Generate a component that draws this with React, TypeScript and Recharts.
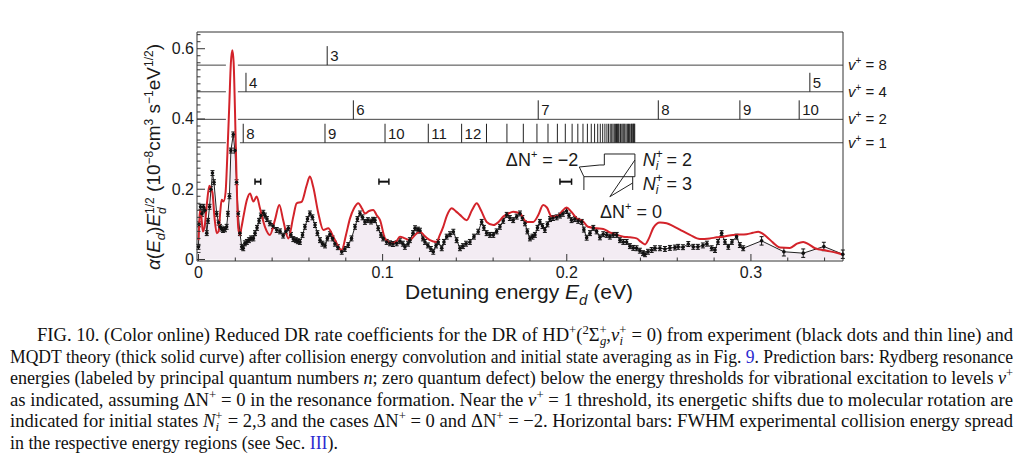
import React from "react";
import {
  ComposedChart,
  Line,
  Area,
  Scatter,
  XAxis,
  YAxis,
  ReferenceLine,
  ErrorBar,
} from "recharts";

const SANS = "'Liberation Sans', Arial, sans-serif";
const SERIF = "'Liberation Serif', 'Times New Roman', serif";
const RED = "#d3232a";
const INK = "#1a1a1a";

// experiment: reduced DR rate vs detuning energy (eV)
const expE = [
  0.0, 0.0003, 0.0011, 0.0019, 0.0027, 0.0035, 0.0045, 0.0052, 0.006, 0.0068,
  0.0076, 0.0084, 0.0099, 0.0109, 0.0117, 0.0125, 0.0133, 0.0144, 0.0153, 0.016,
  0.0168, 0.0176, 0.0189, 0.0198, 0.0207, 0.0216, 0.0225, 0.0235, 0.0243, 0.0252,
  0.0263, 0.0274, 0.0285, 0.0298, 0.0307, 0.0318, 0.0329, 0.0339, 0.0352, 0.0361,
  0.0372, 0.0388, 0.0405, 0.0425, 0.0443, 0.046, 0.0475, 0.0488, 0.0502, 0.0515,
  0.0529, 0.054, 0.0551, 0.0565, 0.0578, 0.0592, 0.0605, 0.0619, 0.0633, 0.0646,
  0.066, 0.0673, 0.0687, 0.07, 0.0714, 0.0728, 0.0741, 0.0757, 0.0778, 0.0795,
  0.0813, 0.0831, 0.085, 0.0863, 0.0877, 0.0891, 0.0904, 0.092, 0.0937, 0.0948,
  0.0958, 0.0976, 0.0991, 0.1003, 0.1022, 0.104, 0.1056, 0.1076, 0.1094, 0.111,
  0.1121, 0.1138, 0.1148, 0.1165, 0.1176, 0.1192, 0.1203, 0.1219, 0.123, 0.1246,
  0.1262, 0.1275, 0.129, 0.1302, 0.1321, 0.1333, 0.1348, 0.1366, 0.1384, 0.1402,
  0.142, 0.1436, 0.1453, 0.1474, 0.1496, 0.1519, 0.1538, 0.155, 0.1565, 0.1583,
  0.1601, 0.1619, 0.1637, 0.1655, 0.1674, 0.1691, 0.1709, 0.1728, 0.1746, 0.1759,
  0.1773, 0.1786, 0.18, 0.1814, 0.1827, 0.1841, 0.1854, 0.1868, 0.1881, 0.1895,
  0.1909, 0.1925, 0.1945, 0.1963, 0.1979, 0.1999, 0.2012, 0.2026, 0.2044, 0.2062,
  0.2081, 0.2093, 0.2108, 0.2126, 0.2144, 0.2162, 0.218, 0.2198, 0.2217, 0.2234,
  0.2252, 0.2271, 0.2289, 0.2307, 0.2325, 0.2343, 0.2361, 0.2379, 0.2397, 0.2414,
  0.2425, 0.2441, 0.2461, 0.2479, 0.2506, 0.2533, 0.256, 0.2587, 0.2605, 0.2631,
  0.266, 0.2687, 0.2712, 0.2739, 0.2761, 0.2787, 0.2805, 0.2821, 0.2841, 0.2859,
  0.2877, 0.2897, 0.2922, 0.294, 0.2958,
];
const expY = [
  0.036, 0.1, 0.15, 0.13, 0.15, 0.14, 0.075, 0.11, 0.15, 0.2,
  0.246, 0.22, 0.13, 0.105, 0.093, 0.088, 0.084, 0.086, 0.093, 0.13,
  0.18, 0.31, 0.356, 0.31, 0.22, 0.13, 0.075, 0.036, 0.032, 0.046,
  0.05, 0.055, 0.06, 0.06, 0.075, 0.09, 0.11, 0.125, 0.133, 0.125,
  0.115, 0.103, 0.095, 0.084, 0.08, 0.068, 0.08, 0.089, 0.07, 0.058,
  0.055, 0.052, 0.05, 0.07, 0.093, 0.115, 0.131, 0.12, 0.098, 0.075,
  0.055, 0.045, 0.04, 0.06, 0.072, 0.06, 0.045, 0.035, 0.022, 0.03,
  0.041, 0.06, 0.093, 0.115, 0.131, 0.12, 0.107, 0.112, 0.108, 0.113,
  0.112, 0.089, 0.07, 0.06, 0.05, 0.046, 0.044, 0.046, 0.052, 0.045,
  0.036, 0.045, 0.055, 0.075, 0.089, 0.085, 0.082, 0.06, 0.05, 0.04,
  0.03, 0.022, 0.04, 0.05, 0.032, 0.05, 0.065, 0.072, 0.079, 0.055,
  0.032, 0.038, 0.045, 0.05, 0.065, 0.079, 0.107, 0.09, 0.075, 0.07,
  0.07, 0.08, 0.093, 0.11, 0.127, 0.118, 0.112, 0.122, 0.131, 0.118,
  0.103, 0.08, 0.06, 0.065, 0.07, 0.09, 0.107, 0.095, 0.084, 0.1,
  0.115, 0.118, 0.12, 0.125, 0.13, 0.138, 0.125, 0.112, 0.115, 0.11,
  0.107, 0.085, 0.062, 0.075, 0.09, 0.08, 0.063, 0.072, 0.07, 0.065,
  0.07, 0.07, 0.055, 0.05, 0.05, 0.038, 0.033, 0.032, 0.025, 0.018,
  0.015, 0.022, 0.027, 0.032, 0.032, 0.03, 0.033, 0.034, 0.036, 0.035,
  0.044, 0.036, 0.036, 0.04, 0.045, 0.032, 0.027, 0.05, 0.075, 0.05,
  0.036, 0.05, 0.065, 0.041, 0.032,
];
// sparse points above 0.3 eV (larger error bars)
const expSparseE = [0.3058, 0.3179, 0.3284, 0.3396, 0.3499];
const expSparseY = [0.053, 0.022, 0.018, 0.037, 0.015];

// MQDT theory curve
const theoryE = [
  0.0, 0.0004, 0.0008, 0.0016, 0.0024, 0.0035, 0.0046, 0.0059, 0.0068, 0.0076,
  0.0087, 0.0099, 0.0109, 0.0119, 0.0126, 0.0136, 0.0147, 0.0157, 0.0168, 0.0176,
  0.0184, 0.0191, 0.0198, 0.0206, 0.0216, 0.0225, 0.0233, 0.0247, 0.0263, 0.028,
  0.0298, 0.0316, 0.0334, 0.0361, 0.0388, 0.0415, 0.0439, 0.046, 0.0488, 0.0515,
  0.0533, 0.056, 0.0588, 0.0605, 0.0623, 0.0651, 0.0678, 0.0705, 0.0732, 0.0778,
  0.0801, 0.0823, 0.0844, 0.0868, 0.0888, 0.0904, 0.0926, 0.0949, 0.0969, 0.0986,
  0.1013, 0.1049, 0.1072, 0.1094, 0.1121, 0.1148, 0.1176, 0.1203, 0.123, 0.1257,
  0.1293, 0.1311, 0.1329, 0.1349, 0.1375, 0.1398, 0.142, 0.1456, 0.1485, 0.1511,
  0.1534, 0.1565, 0.1601, 0.1626, 0.1655, 0.1681, 0.1709, 0.1746, 0.1782, 0.1818,
  0.1844, 0.1872, 0.1892, 0.1918, 0.1954, 0.1974, 0.1999, 0.2023, 0.2054, 0.2089,
  0.2115, 0.2162, 0.2198, 0.2234, 0.2271, 0.2307, 0.2343, 0.2379, 0.2403, 0.2425,
  0.2446, 0.247, 0.2506, 0.2542, 0.2578, 0.2614, 0.2669, 0.2723, 0.2777, 0.2814,
  0.285, 0.2904, 0.2977, 0.3011, 0.304, 0.3065, 0.3085, 0.312, 0.3158, 0.3212,
  0.325, 0.3284, 0.3315, 0.3348, 0.3411, 0.3465, 0.35,
];
const theoryY = [
  0.055, 0.1, 0.14, 0.12, 0.08, 0.1, 0.16, 0.21, 0.2, 0.19,
  0.12, 0.075, 0.08, 0.14, 0.17, 0.165, 0.19, 0.3, 0.45, 0.56,
  0.596, 0.56, 0.43, 0.25, 0.09, 0.07, 0.09, 0.13, 0.17, 0.188,
  0.165, 0.179, 0.146, 0.093, 0.07, 0.112, 0.155, 0.112, 0.06, 0.122,
  0.16, 0.164, 0.212, 0.236, 0.207, 0.131, 0.084, 0.089, 0.065, 0.027,
  0.07, 0.117, 0.145, 0.16, 0.145, 0.131, 0.138, 0.141, 0.125, 0.112,
  0.06, 0.046, 0.05, 0.065, 0.06, 0.055, 0.07, 0.079, 0.066, 0.055,
  0.05, 0.07, 0.093, 0.125, 0.146, 0.137, 0.127, 0.112, 0.14, 0.16,
  0.14, 0.107, 0.098, 0.105, 0.122, 0.13, 0.136, 0.131, 0.107, 0.107,
  0.125, 0.155, 0.148, 0.122, 0.125, 0.137, 0.148, 0.137, 0.117, 0.108,
  0.093, 0.089, 0.087, 0.077, 0.07, 0.065, 0.063, 0.06, 0.05, 0.043,
  0.06, 0.09, 0.105, 0.103, 0.095, 0.085, 0.07, 0.058, 0.06, 0.063,
  0.065, 0.07, 0.072, 0.076, 0.079, 0.073, 0.065, 0.048, 0.034, 0.033,
  0.045, 0.05, 0.043, 0.032, 0.025, 0.019, 0.013,
];

// vibrational thresholds v+ (drawn levels) and the gap around the main peak
const levelNames = ["8", "4", "2", "1"];
const levelY = [0.5533, 0.4774, 0.399, 0.3323];
const gapFrom = [0.0149, 0.0149, 0.0149, 0.0149];
const gapTo = [0.0214, 0.0214, 0.0214, 0.0225];

// Rydberg resonance energies (eV), labelled by n
const rydV8n = ["3"];
const rydV8E = [0.0699];
const rydV4n = ["4", "5"];
const rydV4E = [0.0258, 0.332];
const rydV2n = ["6", "7", "8", "9", "10"];
const rydV2E = [0.0841, 0.1845, 0.2497, 0.294, 0.3262];
const rydV1n = ["8", "9", "10", "11", "12"];
const rydV1E = [0.0243, 0.0687, 0.1013, 0.1248, 0.1429];
const rydV1HighE = [
  0.1564, 0.1675, 0.1764, 0.1838, 0.1898, 0.1949, 0.1992, 0.2029, 0.206, 0.2088,
  0.2112, 0.2133, 0.2151, 0.2168, 0.2182, 0.2195, 0.2207, 0.2218, 0.2227, 0.2236,
  0.2244, 0.2251, 0.2258, 0.2264, 0.227, 0.2275, 0.228, 0.2284, 0.2292, 0.2299,
  0.2305, 0.231, 0.2315, 0.2322, 0.2329, 0.2335, 0.234, 0.2348, 0.2352, 0.2355,
  0.236, 0.2363, 0.2366, 0.2369,
];

// FWHM collision energy spread bars
const fwhmFrom = [0.0307, 0.098, 0.1963];
const fwhmTo = [0.0338, 0.1034, 0.2026];
const fwhmY = 0.2215;

// rotational-shift brackets [x1, y1, x2, y2]
const bracketSegs = [
  [0.2204, 0.269, 0.2204, 0.3003],
  [0.2204, 0.3003, 0.237, 0.3003],
  [0.237, 0.3003, 0.237, 0.2357],
  [0.2093, 0.2357, 0.237, 0.2357],
  [0.2093, 0.2357, 0.2093, 0.1978],
  [0.2358, 0.2357, 0.2358, 0.1978],
  [0.2068, 0.2633, 0.218, 0.269],
  [0.218, 0.269, 0.2204, 0.269],
  [0.2068, 0.2633, 0.2093, 0.2357],
  [0.2234, 0.1788, 0.237, 0.2832],
  [0.2234, 0.1788, 0.2358, 0.2178],
];

const xTicks = [
  0, 0.02, 0.04, 0.06, 0.08, 0.1, 0.12, 0.14, 0.16, 0.18, 0.2, 0.22, 0.24, 0.26,
  0.28, 0.3, 0.32, 0.34,
];
const yTicks = [
  0, 0.02, 0.04, 0.06, 0.08, 0.1, 0.12, 0.14, 0.16, 0.18, 0.2, 0.22, 0.24, 0.26,
  0.28, 0.3, 0.32, 0.34, 0.36, 0.38, 0.4, 0.42, 0.44, 0.46, 0.48, 0.5, 0.52, 0.54,
  0.56, 0.58, 0.6, 0.62, 0.64,
];

const expData = [
  ...expE.map((x, i) => ({ x, y: expY[i], err: 0.007 })),
  ...expSparseE.map((x, i) => ({ x, y: expSparseY[i], err: 0.012 })),
];
const theoryData = theoryE.map((x, i) => ({ x, y: theoryY[i] }));

const predData = [
  ...rydV8E.map((x, i) => ({ x, y: levelY[0], label: rydV8n[i] })),
  ...rydV4E.map((x, i) => ({ x, y: levelY[1], label: rydV4n[i] })),
  ...rydV2E.map((x, i) => ({ x, y: levelY[2], label: rydV2n[i] })),
  ...rydV1E.map((x, i) => ({ x, y: levelY[3], label: rydV1n[i] })),
  ...rydV1HighE.map((x) => ({ x, y: levelY[3], label: "" })),
];
const levelLabelData = levelY.map((y, i) => ({ x: 0.35, y, label: levelNames[i] }));

const annotData = [
  { x: 0.2063, y: 0.2832, kind: "dNm2" },
  { x: 0.2413, y: 0.2832, kind: "N2" },
  { x: 0.2413, y: 0.2149, kind: "N3" },
  { x: 0.218, y: 0.1352, kind: "dN0" },
];

const XDOM: [number, number] = [-0.0008, 0.35];
const YDOM: [number, number] = [-0.0043, 0.6476];

const near = (v: number, step: number) =>
  Math.abs(v / step - Math.round(v / step)) < 1e-6;

function BottomTick(p: any) {
  const { x, y, payload } = p;
  const major = near(payload.value, 0.1);
  return (
    <g>
      <line x1={x} x2={x} y1={y} y2={y - (major ? 7 : 3.5)} stroke="#333" />
      {major && (
        <text x={x} y={y + 17} textAnchor="middle" fontSize={16} fontFamily={SANS} fill={INK}>
          {payload.value === 0 ? "0" : String(payload.value)}
        </text>
      )}
    </g>
  );
}

function TopTick(p: any) {
  const { x, y, payload } = p;
  const major = near(payload.value, 0.1);
  return <line x1={x} x2={x} y1={y} y2={y + (major ? 8 : 3.5)} stroke="#333" />;
}

function LeftTick(p: any) {
  const { x, y, payload } = p;
  const major = near(payload.value, 0.2);
  return (
    <g>
      <line x1={x} x2={x + (major ? 8 : 3.5)} y1={y} y2={y} stroke="#333" />
      {major && (
        <text x={x - 3} y={y} textAnchor="end" dominantBaseline="central" fontSize={16} fontFamily={SANS} fill={INK}>
          {payload.value === 0 ? "0" : String(payload.value)}
        </text>
      )}
    </g>
  );
}

function RightTick(p: any) {
  const { x, y, payload } = p;
  const major = near(payload.value, 0.2);
  return <line x1={x} x2={x - (major ? 8 : 3.5)} y1={y} y2={y} stroke="#333" />;
}

function PredTick(p: any) {
  const { cx, cy, payload } = p;
  return (
    <g>
      <line x1={cx} x2={cx} y1={cy} y2={cy - 19} stroke="#222" strokeWidth={1} />
      {payload.label && (
        <text x={cx + 3} y={cy - 9.5} dominantBaseline="central" fontSize={15} fontFamily={SANS} fill={INK}>
          {payload.label}
        </text>
      )}
    </g>
  );
}

function LevelLabel(p: any) {
  const { cx, cy, payload } = p;
  return (
    <text x={cx + 5} y={cy + 5} fontSize={15} fontFamily={SANS} fill={INK}>
      <tspan fontStyle="italic">v</tspan>
      <tspan fontSize={10} dy={-6}>+</tspan>
      <tspan dy={6}>{` = ${payload.label}`}</tspan>
    </text>
  );
}

function Annot(p: any) {
  const { cx, cy, payload } = p;
  const common = { fontSize: 18, fontFamily: SANS, fill: INK };
  if (payload.kind === "dNm2" || payload.kind === "dN0") {
    return (
      <text x={cx} y={cy + 6} textAnchor={payload.kind === "dNm2" ? "end" : "start"} {...common}>
        ΔN<tspan fontSize={11} dy={-8}>+</tspan>
        <tspan dy={8}>{payload.kind === "dNm2" ? " = \u22122" : " = 0"}</tspan>
      </text>
    );
  }
  return (
    <text x={cx} y={cy + 6} {...common}>
      <tspan fontStyle="italic">N</tspan>
      <tspan fontSize={12} dy={-8}>+</tspan>
      <tspan fontSize={12} fontStyle="italic" dx={-7} dy={12}>i</tspan>
      <tspan dx={3} dy={-4}>{payload.kind === "N2" ? " = 2" : " = 3"}</tspan>
    </text>
  );
}

const seg = (x1: number, y1: number, x2: number, y2: number) => [
  { x: x1, y: y1 },
  { x: x2, y: y2 },
];

function Caption() {
  const fs = 19;
  const sm = 13;
  return (
    <svg
      width={1023}
      height={454}
      style={{ position: "absolute", left: 0, top: 0 }}
      fontFamily={SERIF}
      fontSize={fs}
      fill="#111"
    >
      <text x={37} y={341} textLength={976} lengthAdjust="spacingAndGlyphs">
        {"FIG. 10. (Color online) Reduced DR rate coefficients for the DR of HD"}
        <tspan fontSize={sm} dy={-7}>+</tspan>
        <tspan dy={7}>(</tspan>
        <tspan fontSize={sm} dy={-7}>2</tspan>
        <tspan dy={7}>Σ</tspan>
        <tspan fontSize={sm} dy={-7}>+</tspan>
        <tspan fontSize={sm} fontStyle="italic" dx={-7} dy={11}>g</tspan>
        <tspan dy={-4}>,</tspan>
        <tspan fontStyle="italic">v</tspan>
        <tspan fontSize={sm} dy={-7}>+</tspan>
        <tspan fontSize={sm} fontStyle="italic" dx={-7} dy={11}>i</tspan>
        <tspan dx={4} dy={-4}>{" = 0) from experiment (black dots and thin line) and"}</tspan>
      </text>
      <text x={10} y={362.5} textLength={1003} lengthAdjust="spacingAndGlyphs">
        {"MQDT theory (thick solid curve) after collision energy convolution and initial state averaging as in Fig. "}
        <tspan fill="#2a2ad0">9</tspan>
        {". Prediction bars: Rydberg resonance"}
      </text>
      <text x={10} y={384} textLength={1003} lengthAdjust="spacingAndGlyphs">
        {"energies (labeled by principal quantum numbers "}
        <tspan fontStyle="italic">n</tspan>
        {"; zero quantum defect) below the energy thresholds for vibrational excitation to levels "}
        <tspan fontStyle="italic">v</tspan>
        <tspan fontSize={sm} dy={-7}>+</tspan>
      </text>
      <text x={10} y={405.5} textLength={1003} lengthAdjust="spacingAndGlyphs">
        {"as indicated, assuming ΔN"}
        <tspan fontSize={sm} dy={-7}>+</tspan>
        <tspan dy={7}>{" = 0 in the resonance formation. Near the "}</tspan>
        <tspan fontStyle="italic">v</tspan>
        <tspan fontSize={sm} dy={-7}>+</tspan>
        <tspan dy={7}>{" = 1 threshold, its energetic shifts due to molecular rotation are"}</tspan>
      </text>
      <text x={10} y={427} textLength={1003} lengthAdjust="spacingAndGlyphs">
        {"indicated for initial states "}
        <tspan fontStyle="italic">N</tspan>
        <tspan fontSize={sm} dy={-7}>+</tspan>
        <tspan fontSize={sm} fontStyle="italic" dx={-7} dy={11}>i</tspan>
        <tspan dx={4} dy={-4}>{" = 2,3 and the cases ΔN"}</tspan>
        <tspan fontSize={sm} dy={-7}>+</tspan>
        <tspan dy={7}>{" = 0 and ΔN"}</tspan>
        <tspan fontSize={sm} dy={-7}>+</tspan>
        <tspan dy={7}>{" = \u22122. Horizontal bars: FWHM experimental collision energy spread"}</tspan>
      </text>
      <text x={10} y={448.5} textLength={328} lengthAdjust="spacingAndGlyphs">
        {"in the respective energy regions (see Sec. "}
        <tspan fill="#2a2ad0">III</tspan>
        {")."}
      </text>
    </svg>
  );
}

export default function App() {
  return (
    <div style={{ position: "relative", width: 1023, height: 454, background: "#fff", overflow: "hidden" }}>
      <style>{"body{margin:0;background:#fff}"}</style>
      <div style={{ position: "absolute", left: 0, top: 0 }}>
        <ComposedChart
          width={1023}
          height={310}
          margin={{ top: 22, right: 170, bottom: 9, left: 157 }}
        >
          <XAxis
            xAxisId={0}
            dataKey="x"
            type="number"
            domain={XDOM}
            ticks={xTicks}
            interval={0}
            height={40}
            tickSize={0}
            tickMargin={0}
            tickLine={false}
            tick={(p: any) => <BottomTick {...p} />}
            axisLine={{ stroke: "#333" }}
          />
          <XAxis
            xAxisId="top"
            orientation="top"
            dataKey="x"
            type="number"
            domain={XDOM}
            ticks={xTicks}
            interval={0}
            height={10}
            tickSize={0}
            tickMargin={0}
            tickLine={false}
            tick={(p: any) => <TopTick {...p} />}
            axisLine={{ stroke: "#333" }}
          />
          <YAxis
            yAxisId={0}
            dataKey="y"
            type="number"
            domain={YDOM}
            ticks={yTicks}
            interval={0}
            width={40}
            tickSize={0}
            tickMargin={0}
            tickLine={false}
            tick={(p: any) => <LeftTick {...p} />}
            axisLine={{ stroke: "#333" }}
          />
          <YAxis
            yAxisId="right"
            orientation="right"
            dataKey="y"
            type="number"
            domain={YDOM}
            ticks={yTicks}
            interval={0}
            width={10}
            tickSize={0}
            tickMargin={0}
            tickLine={false}
            tick={(p: any) => <RightTick {...p} />}
            axisLine={{ stroke: "#333" }}
          />

          <Area
            data={expData}
            dataKey="y"
            type="linear"
            fill="#f3ecf3"
            fillOpacity={1}
            stroke="none"
            dot={false}
            activeDot={false}
            isAnimationActive={false}
          />

          {levelY.map((ly, i) => (
            <ReferenceLine
              key={`la${i}`}
              segment={seg(XDOM[0], ly, gapFrom[i], ly)}
              stroke="#444"
              strokeWidth={1}
            />
          ))}
          {levelY.map((ly, i) => (
            <ReferenceLine
              key={`lb${i}`}
              segment={seg(gapTo[i], ly, XDOM[1], ly)}
              stroke="#444"
              strokeWidth={1}
            />
          ))}

          {bracketSegs.map((s, i) => (
            <ReferenceLine key={`br${i}`} segment={seg(s[0], s[1], s[2], s[3])} stroke="#222" strokeWidth={1} />
          ))}

          {fwhmFrom.map((f, i) => (
            <ReferenceLine key={`fw${i}`} segment={seg(f, fwhmY, fwhmTo[i], fwhmY)} stroke="#111" strokeWidth={2} />
          ))}
          {fwhmFrom.map((f, i) => (
            <ReferenceLine key={`fl${i}`} segment={seg(f, fwhmY - 0.009, f, fwhmY + 0.009)} stroke="#111" strokeWidth={1.5} />
          ))}
          {fwhmTo.map((t, i) => (
            <ReferenceLine key={`fr${i}`} segment={seg(t, fwhmY - 0.009, t, fwhmY + 0.009)} stroke="#111" strokeWidth={1.5} />
          ))}

          <Line
            data={expData}
            dataKey="y"
            type="linear"
            stroke="#222"
            strokeWidth={1}
            dot={{ r: 1.8, fill: "#111", stroke: "none" }}
            activeDot={false}
            isAnimationActive={false}
          >
            <ErrorBar dataKey="err" width={2} stroke="#111" strokeWidth={1} direction="y" />
          </Line>

          <Line
            data={theoryData}
            dataKey="y"
            type="monotone"
            stroke={RED}
            strokeWidth={2}
            dot={false}
            activeDot={false}
            isAnimationActive={false}
          />

          <Scatter data={predData} dataKey="y" shape={(p: any) => <PredTick {...p} />} isAnimationActive={false} />
          <Scatter data={levelLabelData} dataKey="y" shape={(p: any) => <LevelLabel {...p} />} isAnimationActive={false} />
          <Scatter data={annotData} dataKey="y" shape={(p: any) => <Annot {...p} />} isAnimationActive={false} />
        </ComposedChart>
      </div>

      <div
        style={{
          position: "absolute",
          left: 155,
          top: 157,
          transform: "translate(-50%, -50%) rotate(-90deg)",
          whiteSpace: "nowrap",
          fontFamily: SANS,
          fontSize: 19,
          color: INK,
          lineHeight: "22px",
        }}
      >
        <i>α</i>(<i>E</i>
        <sub style={{ fontSize: 13, fontStyle: "italic" }}>d</sub>)<i>E</i>
        <span style={{ display: "inline-flex", flexDirection: "column", verticalAlign: "6px", fontSize: 12, lineHeight: "12px" }}>
          <span>1/2</span>
          <span style={{ fontStyle: "italic" }}>d</span>
        </span>{" "}
        (10<sup style={{ fontSize: 12 }}>−8</sup>cm<sup style={{ fontSize: 12 }}>3</sup> s<sup style={{ fontSize: 12 }}>−1</sup>eV
        <sup style={{ fontSize: 12 }}>1/2</sup>)
      </div>

      <div
        style={{
          position: "absolute",
          left: 519,
          top: 296,
          transform: "translate(-50%, -50%)",
          whiteSpace: "nowrap",
          fontFamily: SANS,
          fontSize: 21,
          color: INK,
          lineHeight: "24px",
        }}
      >
        Detuning energy <i>E</i>
        <sub style={{ fontSize: 15, fontStyle: "italic" }}>d</sub> (eV)
      </div>

      <Caption />
    </div>
  );
}
